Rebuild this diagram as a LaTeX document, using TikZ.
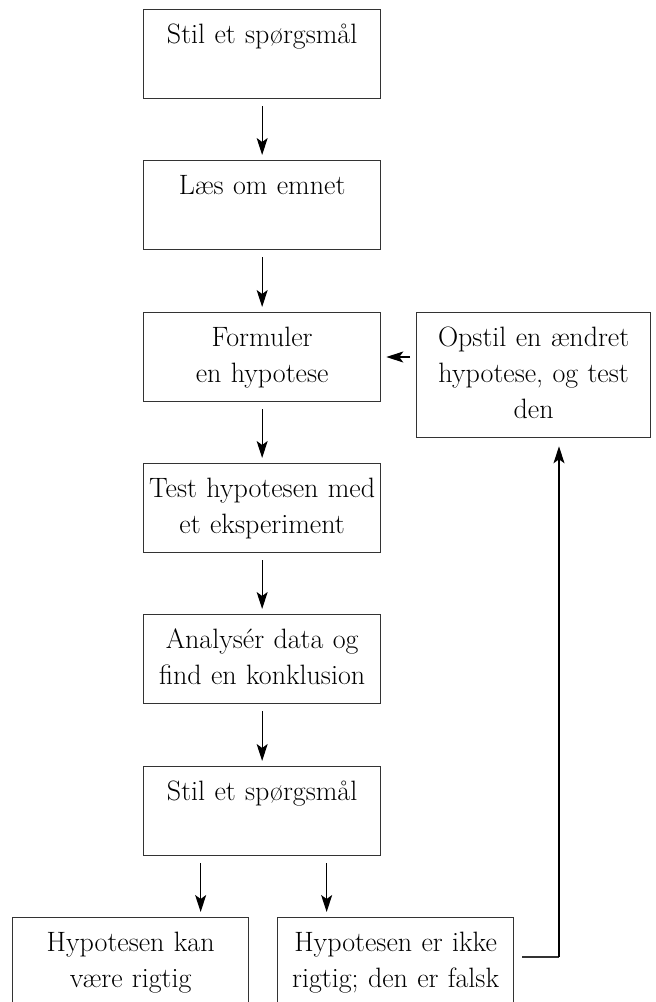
\documentclass[tikz,border=0pt]{standalone}
\usetikzlibrary{arrows.meta}
\begin{document}
\begin{tikzpicture}[x=1pt,y=-1pt,
  box/.style={draw=black!80, line width=1.3pt, rectangle, anchor=north west,
    minimum width=237pt, minimum height=89pt, text width=229pt, inner xsep=4pt, inner ysep=2pt,
    align=center, font=\fontsize{28}{36}\selectfont},
  arr/.style={draw=black, line width=1.2pt, -{Stealth[length=17pt,width=11pt,inset=4pt]}},
  link/.style={draw=black!80, line width=1.2pt}]
\useasboundingbox (0,0) rectangle (656,1002);
\clip (0,0) rectangle (656,1002);
\node[box] (b1) at (143,9) {\strut Stil et spørgsmål\\\strut};
\node[box] (b2) at (143,160) {\strut Læs om emnet\\\strut};
\node[box] (b3) at (143,312) {\strut Formuler\\\strut en hypotese};
\node[box] (b4) at (143,463) {\strut Test hypotesen med\\\strut et eksperiment};
\node[box] (b5) at (143,614) {\strut Analysér data og\\\strut find en konklusion};
\node[box] (b6) at (143,766) {\strut Stil et spørgsmål\\\strut};
\node[box, minimum width=234pt, text width=226pt, minimum height=125pt] (r) at (416,312)
  {\strut Opstil en ændret\\\strut hypotese, og test\\\strut den};
\node[box, minimum width=236pt, text width=228pt] (l1) at (12,917) {\strut Hypotesen kan\\\strut være rigtig};
\node[box, minimum width=236pt, text width=228pt] (l2) at (277,917) {\strut Hypotesen er ikke\\\strut rigtig; den er falsk};
\draw[arr, shorten <=7pt, shorten >=5pt] (b1.south) -- (b2.north);
\draw[arr, shorten <=7pt, shorten >=5pt] (b2.south) -- (b3.north);
\draw[arr, shorten <=7pt, shorten >=5pt] (b3.south) -- (b4.north);
\draw[arr, shorten <=7pt, shorten >=5pt] (b4.south) -- (b5.north);
\draw[arr, shorten <=7pt, shorten >=5pt] (b5.south) -- (b6.north);
\draw[arr, shorten <=7pt, shorten >=5pt] ([xshift=-61.5pt]b6.south) -- ([xshift=-61.5pt]b6.south |- l1.north);
\draw[arr, shorten <=7pt, shorten >=5pt] ([xshift=64.5pt]b6.south) -- ([xshift=64.5pt]b6.south |- l2.north);
\coordinate (c) at (559,957);
\draw[arr, shorten <=6pt, shorten >=5pt] (r.west |- 0,357) -- (b3.east |- 0,357);
\draw[link] ([xshift=8pt]l2.east |- c) -- (c);
\draw[arr, shorten >=8pt] (c) -- (c |- r.south);
\end{tikzpicture}
\end{document}
